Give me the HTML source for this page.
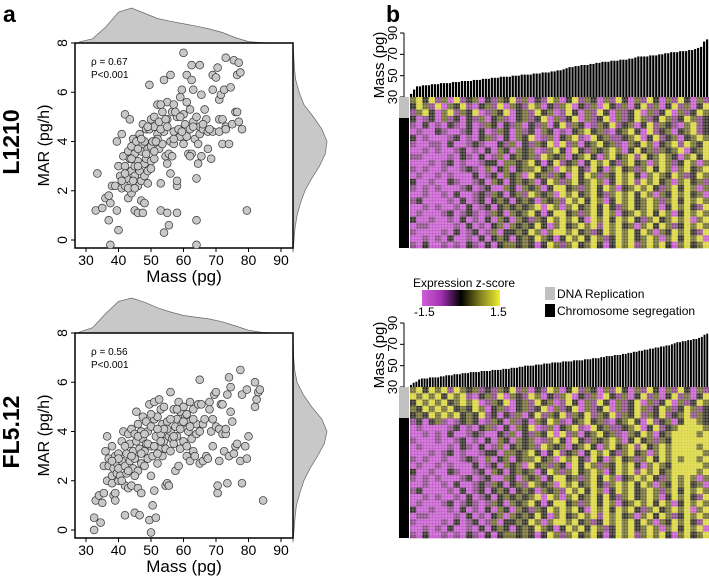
<!DOCTYPE html>
<html><head><meta charset="utf-8"><style>
html,body{margin:0;padding:0;background:#fff;}
svg{display:block;font-family:"Liberation Sans",Arial,sans-serif;}
</style></head><body>
<svg id="s" width="709" height="577" viewBox="0 0 709 577">
<text x="3" y="22" font-size="23" font-weight="bold">a</text>
<text x="386" y="22" font-size="23" font-weight="bold">b</text>
<text transform="translate(19,142) rotate(-90)" text-anchor="middle" font-size="23" font-weight="bold">L1210</text>
<text transform="translate(19,432) rotate(-90)" text-anchor="middle" font-size="23" font-weight="bold">FL5.12</text>
<g>
<defs><linearGradient id="gr" x1="0" x2="1"><stop offset="0" stop-color="#d060d8"/><stop offset="0.25" stop-color="#a030b0"/><stop offset="0.5" stop-color="#000"/><stop offset="0.75" stop-color="#808020"/><stop offset="1" stop-color="#f0f030"/></linearGradient></defs>
<text x="413" y="287" font-size="12">Expression z-score</text>
<rect x="422" y="290" width="78" height="16" fill="url(#gr)"/>
<text x="414" y="316" font-size="12">-1.5</text>
<text x="490" y="316" font-size="12">1.5</text>
<rect x="545" y="287" width="10" height="13" fill="#c0c0c0"/>
<text x="557" y="298" font-size="12">DNA Replication</text>
<rect x="545" y="304" width="10" height="13" fill="#000"/>
<text x="557" y="315" font-size="12">Chromosome segregation</text>
</g>
</svg>
<script>
const NS="http://www.w3.org/2000/svg";
const svg=document.getElementById('s');
function mk(t,a,p){const e=document.createElementNS(NS,t);for(const k in a)e.setAttribute(k,a[k]);(p||svg).appendChild(e);return e;}

const xTicks=[30,40,50,60,70,80,90];
const yTicks=[0,2,4,6,8];
const topPts=[33.5,2.7,33,1.2,35,1.3,36,1.7,37,1.8,37.5,1.5,37,0.8,37.5,-0.2,38,2.2,39,2.2,39.5,1.2,40,0.4,39.5,4,40,3,40.5,2.6,41,2.1,41,4.3,41.5,3.4,42,5.1,42,3,42.5,2.5,42,2.2,43,3.6,43,1.7,43.5,4.9,43.5,3.3,44,3.8,44,2.8,44,1.9,44.5,4.1,45,3.5,45,3,45,2.6,45,1.2,45.5,4,46,3.2,46,2.2,46,1.1,46.5,2.8,46.5,4.3,47,3.6,47,2.4,47,1.6,47.5,1.1,47.5,3.9,47.5,4.7,48,3.1,48,2.6,48,1.5,48.5,4.5,48.5,3.3,49,2.8,49,3.7,49,2.3,49.5,6.3,49.5,4.5,50,3.2,50,4.9,50,3.8,50.5,4.0,51,5,51,3.3,51,4.6,52,5.5,52,4.3,52.5,3.7,53,1.2,53,2.3,53.5,5.2,53.5,3.9,54,4.4,54,0.3,54,6.5,54.5,3.4,55,4.9,55,3.1,55,5.6,55,1.1,55.5,0.6,55.5,3.5,56,6.7,56,4,56,2.7,56.5,5.2,56.5,3.4,57,4.4,57,5.5,57,3.9,58,1.1,58,2.2,58,2.4,58,5,58.5,4.5,59,5.8,59,4.2,59.5,6.1,60,7.6,60,5.1,60,3.9,60.5,4.7,61,6.7,61,5.6,61,4.2,61.5,3.5,62,5.3,62,4.5,62.5,7.1,62.5,6.5,62.5,3.5,63,4.8,63,6.1,63.5,4.1,64,5,64,2.5,64,0.8,64,-0.2,64.5,3.1,64.5,3.9,65,7.1,65,4.6,65,4.3,65.5,5.9,65.5,3.4,66,4.5,66.5,5.3,67,4.9,67.5,3.7,67.5,4.4,68.5,3.3,69,6.7,69,6.1,69,4.4,70,6.6,70.5,7,71,5.7,71,4.9,71,4.4,71.5,5.9,72,4.9,72,3.9,72.5,6.1,73,7.4,73,4.6,74,3.9,74.5,6.2,75,4.7,75.5,7.3,76,5.2,76.5,6.7,77,7.2,77,4.8,77.5,6.8,78,4.5,79.5,1.2,76.5,5.2,73,4.5,53,5.5,52,4.1,51,3.6,50,2.9,48,4.0,46,3.7,44.5,2.4,42,2.7,47,4.1,49,4.6,52.5,4.8,54.5,4.9,57.5,5.2,59,5.0,62,3.4,66,4.7,68,4.5,44,3.3,46,3.0,48.5,3.5,51.5,4.0,53,4.5,55,4.6,57,4.1,59.5,4.4,63,4.6,43,2.1,45,2.1,41,2.4];
const botPts=[32.5,0.5,32.5,0,33,1.2,34,1.4,34.5,0.3,35,1.1,35.5,2.6,35.5,1.5,36,3.2,36.5,2.0,36.5,3.8,37,2.9,37,2.6,38,2.2,38,1.9,38,3.4,38.5,1.4,38.5,2.5,39,1.2,39,1.5,39,3.0,39.5,2.3,39.5,2.7,40,2.0,40,3.1,40,2.5,40.5,2.2,41,3.6,41,2.8,41.5,4.0,42,0.6,42,1.8,42,2.6,42.5,3.1,42.5,2.3,43,1.7,43,3.9,43.5,2.8,43.5,3.5,44,1.8,44,4.1,44.5,2.5,44.5,3.2,45,0.7,45,2.9,45,3.9,45.5,4.8,45.5,3.6,46,1.7,46,2.4,46,4.3,46.5,0.6,46.5,3.3,47,4.0,47,2.7,47,1.5,47.5,3.7,47.5,4.6,48,3.2,48,2.6,48.5,4.4,48.5,3.5,49,4.0,49,2.9,49.5,0.4,49.5,5.1,50,2.2,50,3.4,50,4.2,50,-0.1,50.5,1.0,50.5,3.0,51,1.6,51,4.5,51,5.2,51.5,0.5,51.5,3.8,52,2.7,52,4.6,52.5,5.3,52.5,3.3,53,3.9,53,4.9,53.5,3.0,53.5,4.3,54,3.6,54,5.0,54.5,1.8,54.5,3.3,55,1.9,55,4.4,55.5,3.8,55.5,1.8,56,5.6,56,3.2,56,4.0,56.5,3.7,57,4.9,57,3.5,57.5,2.4,57.5,4.2,58,4.5,58,3.8,58.5,2.6,58.5,5.2,59,3.3,59,4.8,59.5,4.3,60,3.6,60,5.0,60.5,4.6,61,3.4,61,3.0,61.5,4.0,62,2.8,62,5.2,62,4.4,62.5,3.7,63,4.9,63,3.2,63.5,3.0,64,3.9,64,4.3,64.5,5.1,65,6.1,65,2.7,65,4.0,65.5,5.1,66,4.3,66,2.8,66.5,4.5,67,3.0,67.5,2.9,68,4.9,68,5.2,68.5,4.0,69,3.4,69,4.5,69.5,5.5,70,5.6,70,4.2,70.5,1.5,70.5,1.8,71,4.1,71,2.8,71.5,5.1,72,5.1,72,3.9,72.5,3.2,73,3.9,73,4.1,73.5,1.9,73.5,5.5,74,6.2,74,3.0,74.5,5.8,74.5,4.8,75,4.4,75.5,3.1,76,3.4,76.5,3.5,77.5,6.5,77.5,2.8,78,1.9,78,5.5,79,3.4,79.5,5.7,79.5,2.9,80,3.8,82,5.0,82,6.0,82.5,5.3,83,5.6,83.5,5.7,84.5,1.2,40,2.9,41,2.0,43,2.4,44,3.0,46,3.8,48,3.9,49,3.5,51,3.4,53,3.6,55,4.1,57,3.8,59,4.1,61,4.7,63,4.5,45,2.2,47,3.1,52,3.1,54,4.1,56,4.5,58,4.9,60,4.4,62,4.2,38,2.8,42,3.4,50,4.7,52,4.1];
const densMass=[28,32,36,40,44,48,52,56,60,64,68,72,76,80,84,88,92];
const topDensX=[0.03,0.12,0.45,0.88,1.0,0.85,0.7,0.62,0.55,0.48,0.4,0.3,0.15,0.04,0.01,0,0];
const botDensX=[0.03,0.15,0.55,0.9,1.0,0.88,0.72,0.6,0.5,0.45,0.4,0.32,0.2,0.08,0.02,0,0];
const densMar=[-0.5,0,0.5,1,1.5,2,2.5,3,3.5,4,4.5,5,5.5,6,6.5,7,7.5,8];
const topDensY=[0,0.03,0.06,0.12,0.22,0.35,0.55,0.78,0.95,1.0,0.85,0.6,0.32,0.18,0.08,0.04,0.02,0];
const botDensY=[0,0.03,0.06,0.1,0.2,0.32,0.5,0.72,0.92,1.0,0.85,0.55,0.3,0.12,0.05,0.02,0.01,0];

function scatter(top,pts,dx,dy,rho,nm){
  const L=75,R=293,T=top,B=top+205;
  const x=v=>86+(v-30)*(195/60);
  const y=v=>(B-8)-(v)*((B-8-T)/8);
  const g=mk('g',{});
  
  
  let d='M'+x(densMass[0])+','+T;
  densMass.forEach((m,i)=>{d+=' L'+x(m)+','+(T-dx[i]*35);});
  d+=' L'+x(densMass[densMass.length-1])+','+T+'Z';
  const p1=mk('path',{d:d,fill:'#c8c8c8',stroke:'#666','stroke-width':0.7},g);
  
  
  let d2='M'+R+','+y(densMar[0]);
  densMar.forEach((m,i)=>{d2+=' L'+(R+dy[i]*34)+','+y(m);});
  d2+=' L'+R+','+y(densMar[densMar.length-1])+'Z';
  const p2=mk('path',{d:d2,fill:'#c8c8c8',stroke:'#666','stroke-width':0.7},g);
  
  
  const bx=mk('rect',{x:L,y:T,width:R-L,height:B-T,fill:'#fff',stroke:'#000','stroke-width':1.5},g);
  
  
  for(let i=0;i<pts.length;i+=2){
    const c=mk('circle',{cx:x(pts[i]),cy:y(pts[i+1]),r:3.9,fill:'#c8c8c8',stroke:'#333','stroke-width':0.7},g);
    
    
  }
  xTicks.forEach(v=>{
    mk('line',{x1:x(v),x2:x(v),y1:B,y2:B+4,stroke:'#000'},g);
    const t=mk('text',{x:x(v),y:B+17,'text-anchor':'middle','font-size':14},g);t.textContent=v;
    
    
  });
  yTicks.forEach(v=>{
    mk('line',{x1:L,x2:L-4,y1:y(v),y2:y(v),stroke:'#000'},g);
    const t=mk('text',{transform:'translate('+(L-8)+','+y(v)+') rotate(-90)','text-anchor':'middle','font-size':14},g);t.textContent=v;
    
    
  });
  const xl=mk('text',{x:184,y:B+34,'text-anchor':'middle','font-size':17},g);xl.textContent='Mass (pg)';
  
  
  const yl=mk('text',{transform:'translate(49,'+((T+B)/2)+') rotate(-90)','text-anchor':'middle','font-size':16},g);yl.textContent='MAR (pg/h)';
  
  
  const r1=mk('text',{x:L+16,y:T+22,'font-size':10},g);r1.textContent='ρ = '+rho;
  
  
  const r2=mk('text',{x:L+16,y:T+35,'font-size':10},g);r2.textContent='P<0.001';
  
  
}
scatter(43,topPts,topDensX,topDensY,'0.67','l1210');
scatter(333,botPts,botDensX,botDensY,'0.56','fl512');

const massTicks=[30,50,70,90];
const topMass=[33,37,40,40,41,41,41,42,42,42,43,43,43,43,44,44,44,45,45,45,45,46,46,46,47,47,47,48,48,48,49,49,49,49,50,50,50,51,51,51,51,52,52,52,53,53,53,54,54,55,55,56,57,58,58,59,59,60,60,60,61,61,62,62,63,63,63,64,64,64,65,65,65,66,66,67,68,68,68,68,69,69,69,70,70,71,71,72,72,72,73,73,73,74,74,75,76,77,82,84];
const botMass=[32,34,35,37,38,38,38,39,39,39,39,40,40,41,41,41,42,42,42,43,43,43,44,44,44,44,45,45,45,45,46,46,46,46,47,47,47,48,48,48,49,49,50,50,50,50,51,51,51,52,52,52,53,53,53,53,54,54,54,54,55,55,55,55,56,56,56,57,57,57,58,58,59,59,59,60,60,60,61,61,62,62,63,63,64,64,65,65,66,66,67,67,68,68,69,69,70,71,72,72,73,73,74,74,75,75,76,77,79,80];
const topHeat=[
"342413041230213241302143024132031420314203142031",
"243140324102314032143021340213042130241302413024",
"134203413240132402314230142031420312403124031243",
"201203120213023102312403124031240312431243124312",
"102010210201320213021302413201324123024132103412",
"010021001202013203120320102342310234204123023412",
"201000120102310203240130234104231123402412302343",
"100110200121002130213240413023423103243023414324",
"001010012010203203230134204213234302423132340234",
"110000102102013023231432302342034234142343203424",
"000101201001220332342024123024342134230343124303",
"101001001210302302334230434214203423134243034234",
"010010100020120323042313204243132434203432431243",
"200100210012032023230243134234302434143423034231",
"101010001201200320323024423134243023434213424303",
"001001020012132023143230434234213434243032434230",
"120000102012023202320323143424302434234313424343",
"001010010201202323234043034234242134234302434214",
"010001201210132032342024423134243023434243024343",
"200100102010203203213243434204342434213423434034",
"011000010201023032324203423434143423034243124343",
"100001020120130223243034434231243434243032434214",
"001010200102023202324320243424312434234303424340",
"102001010210202332320243134234202434134342034234"];
const botHeat=[
"342434143231213241302143024132031420314203142031",
"434342434102314032143021340213042130241302413024",
"243434234340132402314230142031420312403124031243",
"324343423243023102312403124031240312431243124312",
"232434342324120213024132413241324132413241234132",
"120231012320132031203243102342310234204123024432",
"010000120102310203240130234104231123402412344443",
"001010200121002130213240413023423103243023444434",
"100010012010203203230134204213234302423132444444",
"010000102102013023231432302342034234142343444434",
"000101201001220332342024123024342134230343444443",
"101001001210302302334230434214203423134243434434",
"010010100020120323042313204243132434203432444443",
"200100210012032023230243134234302434143423444434",
"101010001201200320323024423134243023434213434303",
"001001020012132023143230434234213434243032434230",
"120000102012023202320323143424302434234313424343",
"001010010201202323234043034234242134234302434214",
"010001201210132032342024423134243023434243024343",
"200100102010203203213243434204342434213423434034",
"011000010201023032324203423434143423034243124343",
"100001020120130223243034434231243434243032434214",
"001010200102023202324320243424312434234303424340",
"102001010210202332320243134234202434134342034234"];
const heatColors=['#c458cc','#8a4888','#2e2a22','#6e6a2c','#d8d438'];

function heatPanel(T0,H,mass,heat,grayH,nm){
  const X0=410,X1=709;
  const g=mk('g',{});
  
  
  const base=T0;
  const my=v=>base-(v-30)*(64/60);
  const bw=(X1-X0)/mass.length;
  mass.forEach((v,i)=>{
    const r=mk('rect',{x:X0+i*bw,y:my(v),width:Math.max(bw-0.8,0.5),height:base-my(v),fill:'#000'},g);
    
    
  });
  mk('line',{x1:404,x2:404,y1:my(30),y2:my(90),stroke:'#000'},g);
  massTicks.forEach(v=>{
    mk('line',{x1:404,x2:400,y1:my(v),y2:my(v),stroke:'#000'},g);
    const t=mk('text',{transform:'translate(397,'+my(v)+') rotate(-90)','text-anchor':'middle','font-size':13},g);t.textContent=v;
    
    
  });
  const yl=mk('text',{transform:'translate(384,'+my(60)+') rotate(-90)','text-anchor':'middle','font-size':15},g);yl.textContent='Mass (pg)';
  
  
  const rows=heat.length, cols=heat[0].length;
  const cw=(X1-X0)/cols, ch=H/rows;
  heat.forEach((row,r)=>{
    for(let c=0;c<cols;c++){
      const e=mk('rect',{x:X0+c*cw,y:base+r*ch,width:cw+0.3,height:ch+0.3,fill:heatColors[+row[c]]},g);
      
      
    }
  });
  for(let i=1;i<100;i++) mk('line',{x1:X0+i*3,x2:X0+i*3,y1:base,y2:base+H,stroke:'#fff','stroke-width':0.5,opacity:0.5},g);
  for(let i=1;i<50;i++) mk('line',{x1:X0,x2:X1,y1:base+i*3,y2:base+i*3,stroke:'#fff','stroke-width':0.5,opacity:0.5},g);
  const s1=mk('rect',{x:399,y:base,width:10,height:grayH,fill:'#c0c0c0'},g);
  
  
  const s2=mk('rect',{x:399,y:base+grayH,width:10,height:H-grayH,fill:'#000'},g);
  
  
}
heatPanel(97,151,topMass,topHeat,21,'l1210');
heatPanel(387,151,botMass,botHeat,31,'fl512');
</script>
</body></html>
